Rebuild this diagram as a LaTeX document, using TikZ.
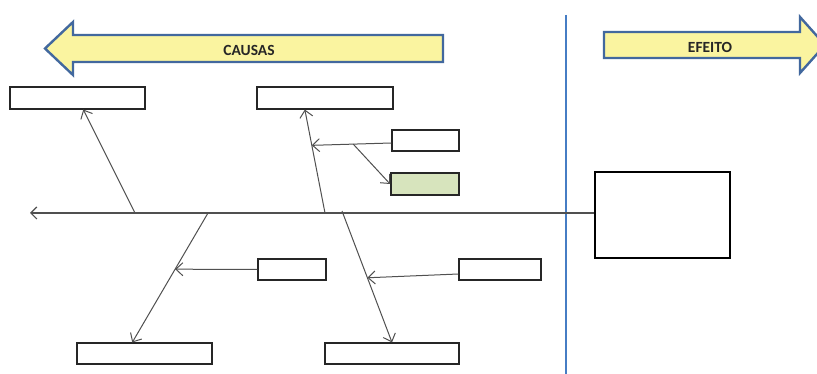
\documentclass[tikz,border=0pt]{standalone}
\usepackage{fontspec}
\setmainfont{Carlito}
\usetikzlibrary{arrows.meta,calc}
\definecolor{bannerfill}{RGB}{250,244,160}
\definecolor{bannerline}{RGB}{66,104,158}
\definecolor{divider}{RGB}{70,125,196}
\definecolor{bonegray}{RGB}{80,80,80}
\definecolor{causefill}{RGB}{215,228,189}
\tikzset{
  banner/.style={fill=bannerfill,draw=bannerline,line width=2.4pt,line join=miter},
  bannertext/.style={font=\fontsize{15.5}{17}\selectfont\bfseries,text=black!85},
  causebox/.style={draw=black!85,line width=1.1pt,fill=white,inner sep=0pt},
  effectbox/.style={draw=black,line width=2pt,fill=white,inner sep=0pt},
  bone/.style={draw=bonegray,line width=1pt,-{Straight Barb[length=7pt,width=13pt]}},
  spine/.style={draw=bonegray,line width=1.2pt,-{Straight Barb[length=6pt,width=12pt]}}
}
\begin{document}
\begin{tikzpicture}[x=1pt,y=-1pt]
\useasboundingbox (0,0) rectangle (817,374);
\clip (0,0) rectangle (817,374);
\fill[white] (0,0) rectangle (817,374);

% banners
\draw[banner] (443,35) -- (73,35) -- (73,22) -- (45,48.5) -- (73,75) -- (73,62) -- (443,62) -- cycle;
\node[bannertext] (causas) at (249,50) {CAUSAS};
\draw[banner] (604,32) -- (800,32) -- (800,17) -- (825,45) -- (800,73) -- (800,58) -- (604,58) -- cycle;
\node[bannertext] (efeito) at (710,47) {EFEITO};

% divider between causes and effect
\draw[divider,line width=2pt] (566,15) -- (566,374);

% boxes
\node[causebox,minimum width=135,minimum height=22] (b1) at (77.5,98) {};
\node[causebox,minimum width=136,minimum height=22] (b2) at (325,98) {};
\node[causebox,minimum width=67,minimum height=21] (b3) at (425.5,140.5) {};
\node[causebox,fill=causefill,line width=1.8pt,minimum width=68,minimum height=22] (g) at (425,184) {};
\node[causebox,minimum width=68,minimum height=21] (b4) at (292,269.5) {};
\node[causebox,minimum width=82,minimum height=21] (b6) at (500,269.5) {};
\node[causebox,minimum width=135,minimum height=21] (b5) at (144.5,353.5) {};
\node[causebox,minimum width=134,minimum height=21] (b7) at (392,353.5) {};
\node[effectbox,minimum width=135,minimum height=86] (eff) at (662.5,215) {};

% spine
\coordinate (tail) at (30,213);
\draw[spine] (eff.west |- tail) -- (tail);

% main bones
\coordinate (s1) at (135,213);
\coordinate (s2) at (325,213);
\coordinate (s3) at (208,213);
\coordinate (s4) at (342,211);
\coordinate (t2) at ($(b2.south west)!0.353!(b2.south east)$);
\coordinate (t3) at ($(b5.north west)!0.41!(b5.north east)$);
\draw[bone] (s1) -- (b1);
\draw[bone] (s2) -- (t2);
\draw[bone] (s3) -- (t3);
\draw[bone] (s4) -- (b7.north);

% secondary bones
\coordinate (j2) at ($(s2)!0.654!(t2)$);
\coordinate (j3) at ($(s3)!0.434!(t3)$);
\coordinate (j4) at ($(s4)!0.508!(b7.north)$);
\coordinate (b3w) at ($(b3.west)+(0,2.5)$);
\coordinate (b6w) at ($(b6.west)+(0,4.5)$);
\draw[bone] (b3w) -- (j2);
\draw[bone] (b4.west) -- (j3);
\draw[bone] (b6w) -- (j4);

% tertiary bone
\coordinate (k) at ($(b3w)!0.48!(j2)$);
\draw[bone] (k) -- (g.west);
\end{tikzpicture}
\end{document}
